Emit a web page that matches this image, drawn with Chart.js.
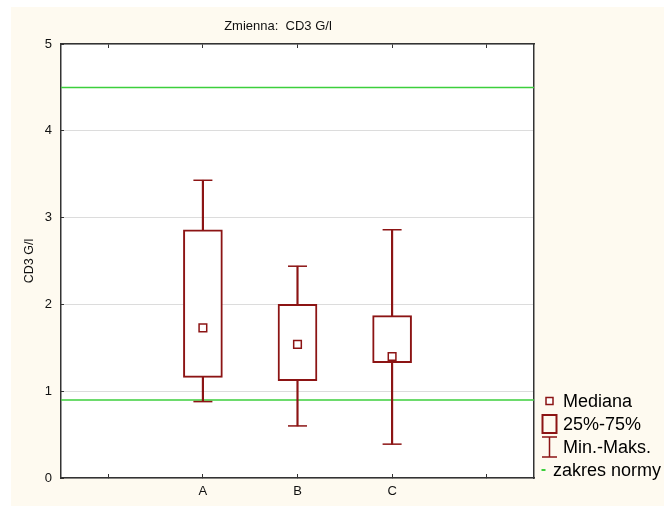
<!DOCTYPE html>
<html>
<head>
<meta charset="utf-8">
<script src="https://cdn.jsdelivr.net/npm/chart.js@4.4.1/dist/chart.umd.min.js"></script>
<style>
  html, body { margin: 0; background: #fff; }
  canvas { display: block; }
</style>
</head>
<body>
<canvas id="boxChart" width="664" height="506"></canvas>
<script>
// CD3 G/l per group: min, quartiles, median, max
const categories = ["A", "B", "C"];
const minValues = [0.88, 0.60, 0.39];
const q1Values = [1.16, 1.12, 1.33];
const medianValues = [1.73, 1.54, 1.40];
const q3Values = [2.86, 2.00, 1.87];
const maxValues = [3.43, 2.44, 2.86];
// reference range
const normLow = 0.9;
const normHigh = 4.5;
const yTickValues = [0, 1, 2, 3, 4, 5];
const legendLabels = ["Mediana", "25%-75%", "Min.-Maks.", "zakres normy"];

const boxColor = "#8c1414";
const normColor = "#3ccf3c";
const axisColor = "#333";
const fontFamily = "Arial, 'Liberation Sans', sans-serif";

// groups sit on slots 2..4 of an x axis running 0.5..5.5
const xMin = 0.5, xMax = 5.5;
const xSlots = [1, 2, 3, 4, 5];
const slotOf = i => i + 2;
const at = values => values.map((v, i) => ({ x: slotOf(i), y: v }));

const ctx = document.getElementById("boxChart");

const backdrop = {
  id: "backdrop",
  beforeDraw(chart) {
    const c = chart.ctx;
    const a = chart.chartArea;
    c.save();
    c.fillStyle = "#fff";
    c.fillRect(0, 0, chart.width, chart.height);
    c.fillStyle = "#fefaf0";
    c.fillRect(11, 7, chart.width - 11, chart.height - 7);
    c.fillStyle = "#fff";
    c.fillRect(a.left, a.top, a.right - a.left, a.bottom - a.top);
    c.restore();
  }
};

const titleAndLegend = {
  id: "titleAndLegend",
  afterDraw(chart) {
    const c = chart.ctx;
    const a = chart.chartArea;
    c.save();
    c.fillStyle = "#111";
    c.textBaseline = "middle";
    c.textAlign = "center";
    c.font = "13px " + fontFamily;
    c.fillText("Zmienna:  CD3 G/l", 278, 26);

    // legend in the lower right corner
    const ix = a.right + 15.5;
    const tx = a.right + 29;
    const rows = [401, 424, 447, 470];
    c.strokeStyle = boxColor;
    c.fillStyle = "#fff";
    c.lineWidth = 1.5;
    c.fillRect(ix - 3.5, rows[0] - 3.5, 7, 7);
    c.strokeRect(ix - 3.5, rows[0] - 3.5, 7, 7);
    c.lineWidth = 2;
    c.strokeRect(ix - 7, rows[1] - 9, 14, 18);
    c.lineWidth = 1.5;
    c.beginPath();
    c.moveTo(ix, rows[2] - 10); c.lineTo(ix, rows[2] + 10);
    c.moveTo(ix - 7.5, rows[2] - 10); c.lineTo(ix + 7.5, rows[2] - 10);
    c.moveTo(ix - 7.5, rows[2] + 10); c.lineTo(ix + 7.5, rows[2] + 10);
    c.stroke();
    c.strokeStyle = normColor;
    c.lineWidth = 2;
    c.beginPath();
    c.moveTo(ix - 8, rows[3]); c.lineTo(ix - 4, rows[3]);
    c.stroke();

    c.fillStyle = "#000";
    c.textAlign = "left";
    c.font = "18px " + fontFamily;
    legendLabels.forEach((t, k) => {
      // the short green dash leaves its label closer to the icon
      const x = k === 3 ? tx - 10 : tx;
      c.fillText(t, x, rows[k] + 1);
    });
    c.restore();
  }
};

const slotTicks = s => { s.ticks = xSlots.map(v => ({ value: v })); };

new Chart(ctx, {
  type: "bar",
  data: {
    datasets: [
      {
        type: "line",
        data: [{ x: xMin, y: normLow }, { x: xMax, y: normLow }],
        borderColor: normColor,
        borderWidth: 1.5,
        pointRadius: 0,
        order: 6,
      },
      {
        type: "line",
        data: [{ x: xMin, y: normHigh }, { x: xMax, y: normHigh }],
        borderColor: normColor,
        borderWidth: 1.5,
        pointRadius: 0,
        order: 5,
      },
      {
        // whiskers
        data: categories.map((c, i) => ({ x: slotOf(i), y: [minValues[i], maxValues[i]] })),
        backgroundColor: boxColor,
        barThickness: 1.5,
        grouped: false,
        order: 4,
      },
      {
        // 25%-75% boxes
        data: categories.map((c, i) => ({ x: slotOf(i), y: [q1Values[i], q3Values[i]] })),
        backgroundColor: "#fff",
        borderColor: boxColor,
        borderWidth: 2,
        borderSkipped: false,
        barThickness: 39,
        grouped: false,
        order: 3,
      },
      {
        // whisker caps
        type: "line",
        showLine: false,
        data: at(minValues).concat(at(maxValues)),
        pointStyle: "line",
        pointRadius: 9.5,
        pointBorderWidth: 1.5,
        pointBorderColor: boxColor,
        order: 2,
      },
      {
        type: "line",
        showLine: false,
        data: at(medianValues),
        pointStyle: "rect",
        pointRadius: 5.4,
        pointBorderWidth: 1.5,
        pointBorderColor: boxColor,
        pointBackgroundColor: "#fff",
        order: 1,
      },
    ],
  },
  options: {
    responsive: false,
    animation: false,
    events: [],
    layout: { padding: { left: 0, top: 44, right: 130, bottom: 0 } },
    plugins: {
      legend: { display: false },
      tooltip: { enabled: false },
    },
    scales: {
      x: {
        type: "linear",
        position: "bottom",
        min: xMin,
        max: xMax,
        offset: false,
        afterBuildTicks: slotTicks,
        afterFit: s => { s.height = 28; },
        ticks: {
          callback: v => categories[v - slotOf(0)] || "",
          font: { family: fontFamily, size: 13 },
          color: "#111",
          padding: 10,
          maxRotation: 0,
          autoSkip: false,
        },
        grid: { drawOnChartArea: false, offset: false, tickLength: -4, tickColor: axisColor, tickWidth: 1 },
        border: { color: axisColor, width: 1.5 },
      },
      x2: {
        type: "linear",
        position: "top",
        min: xMin,
        max: xMax,
        offset: false,
        afterBuildTicks: slotTicks,
        afterFit: s => { s.height = 0; },
        ticks: { display: false },
        grid: { drawOnChartArea: false, offset: false, tickLength: -4, tickColor: axisColor, tickWidth: 1 },
        border: { color: axisColor, width: 1.5 },
      },
      y: {
        position: "left",
        min: 0,
        max: 5,
        afterBuildTicks: s => { s.ticks = yTickValues.map(v => ({ value: v })); },
        afterFit: s => { s.width = 61; },
        title: {
          display: true,
          text: "CD3 G/l",
          font: { family: fontFamily, size: 12.5 },
          color: "#111",
          padding: { top: 22, bottom: 0 },
        },
        ticks: { font: { family: fontFamily, size: 13 }, color: "#111", padding: 12 },
        grid: { color: "#b8b8b8", lineWidth: 1, tickLength: -3, tickColor: axisColor, tickWidth: 1 },
        border: { color: axisColor, width: 1.5, dash: [1, 1] },
      },
      y2: {
        position: "right",
        min: 0,
        max: 5,
        afterFit: s => { s.width = 0; },
        ticks: { display: false },
        grid: { drawOnChartArea: false, drawTicks: false },
        border: { color: axisColor, width: 1.5 },
      },
    },
  },
  plugins: [backdrop, titleAndLegend],
});
</script>
</body>
</html>
